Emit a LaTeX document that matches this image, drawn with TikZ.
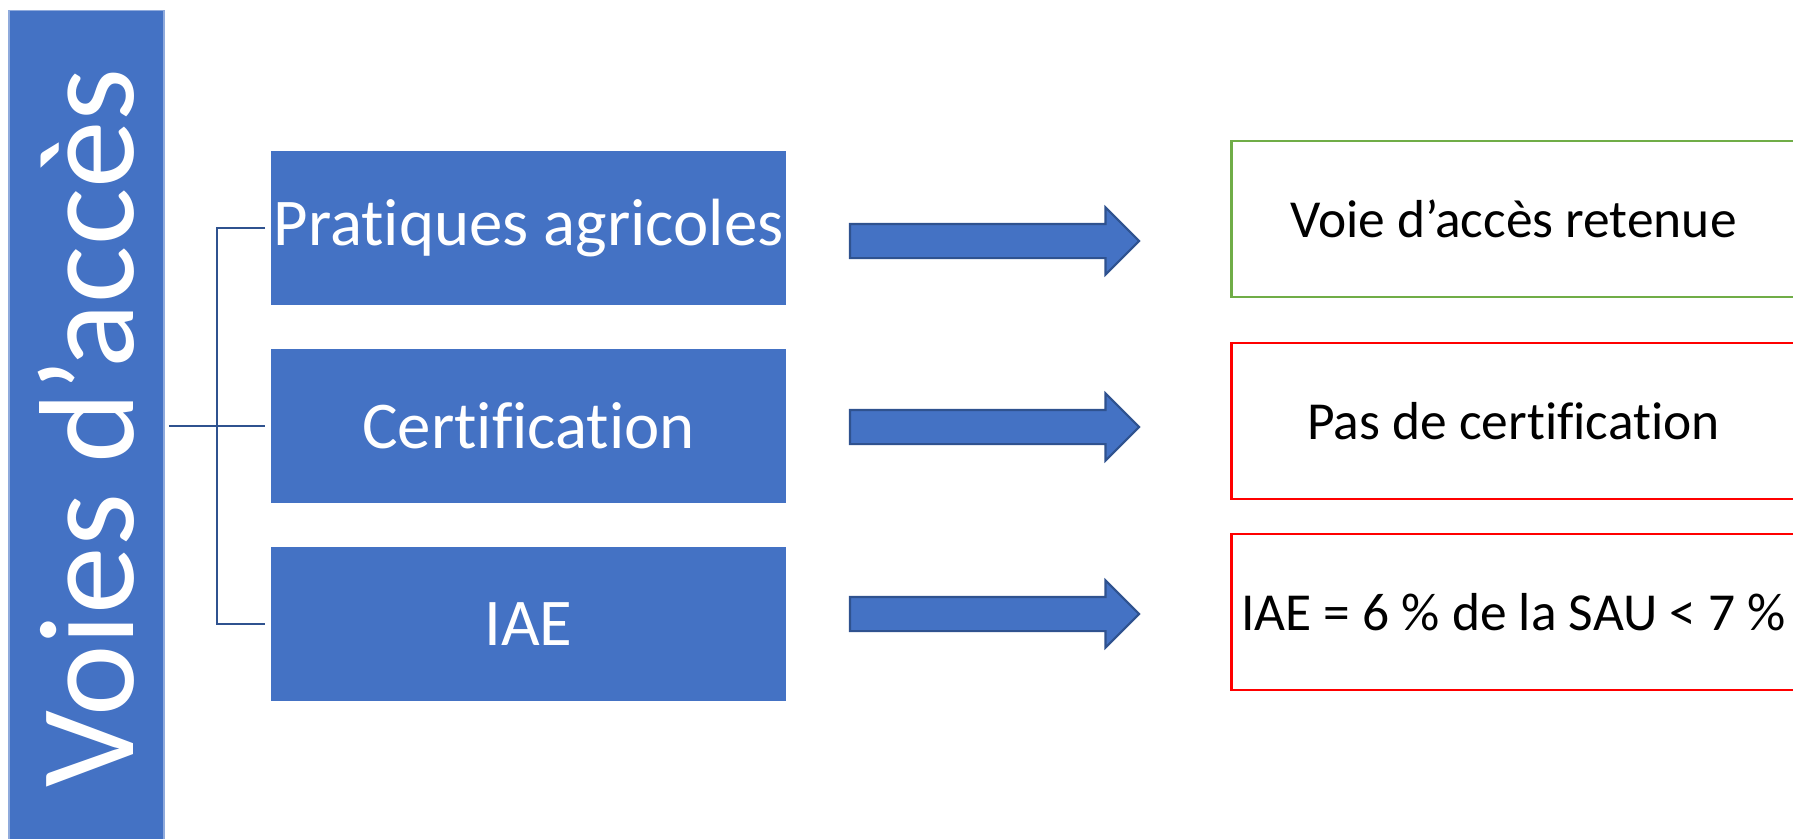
\documentclass[tikz,border=0pt]{standalone}
\usepackage{fontspec}
\setmainfont{Carlito}[Ligatures={TeX,NoCommon}]
\usetikzlibrary{positioning,shapes.arrows}
\definecolor{boxblue}{HTML}{4472C4}
\definecolor{lineblue}{HTML}{2F528F}
\definecolor{okgreen}{HTML}{70AD47}

\begin{document}
\begin{tikzpicture}[x=0.01cm,y=-0.01cm,on grid,node distance=1.98cm,
    voie/.style={fill=boxblue,text=white,minimum width=5.15cm,minimum height=1.54cm,inner sep=0pt,font=\fontsize{19}{22}\selectfont},
    bigarrow/.style={single arrow,fill=boxblue,draw=lineblue,line width=0.6pt,inner xsep=0pt,inner ysep=0.16cm,single arrow head extend=0.165cm,minimum height=2.89cm},
    verdict/.style={draw=#1,line width=0.8pt,minimum width=5.63cm,minimum height=1.56cm,inner sep=0pt,font=\fontsize{15.2}{18}\selectfont},
    branch/.style={draw=lineblue,line width=0.6pt}]
        \useasboundingbox (0,0) rectangle (1793,838);
        \clip (0,0) rectangle (1793,838);
        \node[fill=boxblue,draw=boxblue!60,minimum width=1.55cm,minimum height=8.34cm,inner sep=0pt,text=white,font=\fontsize{38.5}{40}\selectfont] (voies) at (86.5,428) {\rotatebox{90}{Voies d’accès}};
        \node[voie] (pa) at (528.5,228) {Pratiques agricoles};
        \node[voie] (ce) [below=of pa] {Certification};
        \node[voie] (iae) [below=of ce] {IAE};
        \coordinate (fork) at (217,426);
        \draw[branch] ([xshift=0.04cm]voies.east |- ce.west) -- ([xshift=-0.05cm]ce.west);
        \draw[branch] ([xshift=-0.05cm]pa.west) -| (fork) |- ([xshift=-0.05cm]iae.west);
        \node[bigarrow] (a_pa) at (986,241) {};
        \node[bigarrow] (a_ce) at (986,427) {};
        \node[bigarrow] (a_iae) at (986,614) {};
        \node[verdict=okgreen] (r_pa) at (1513.5,219) {Voie d’accès retenue};
        \node[verdict=red] (r_ce) at (1513.5,421) {Pas de certification};
        \node[verdict=red] (r_iae) at (1513.5,612) {IAE = 6 \% de la SAU < 7 \%};
    \end{tikzpicture}
\end{document}
